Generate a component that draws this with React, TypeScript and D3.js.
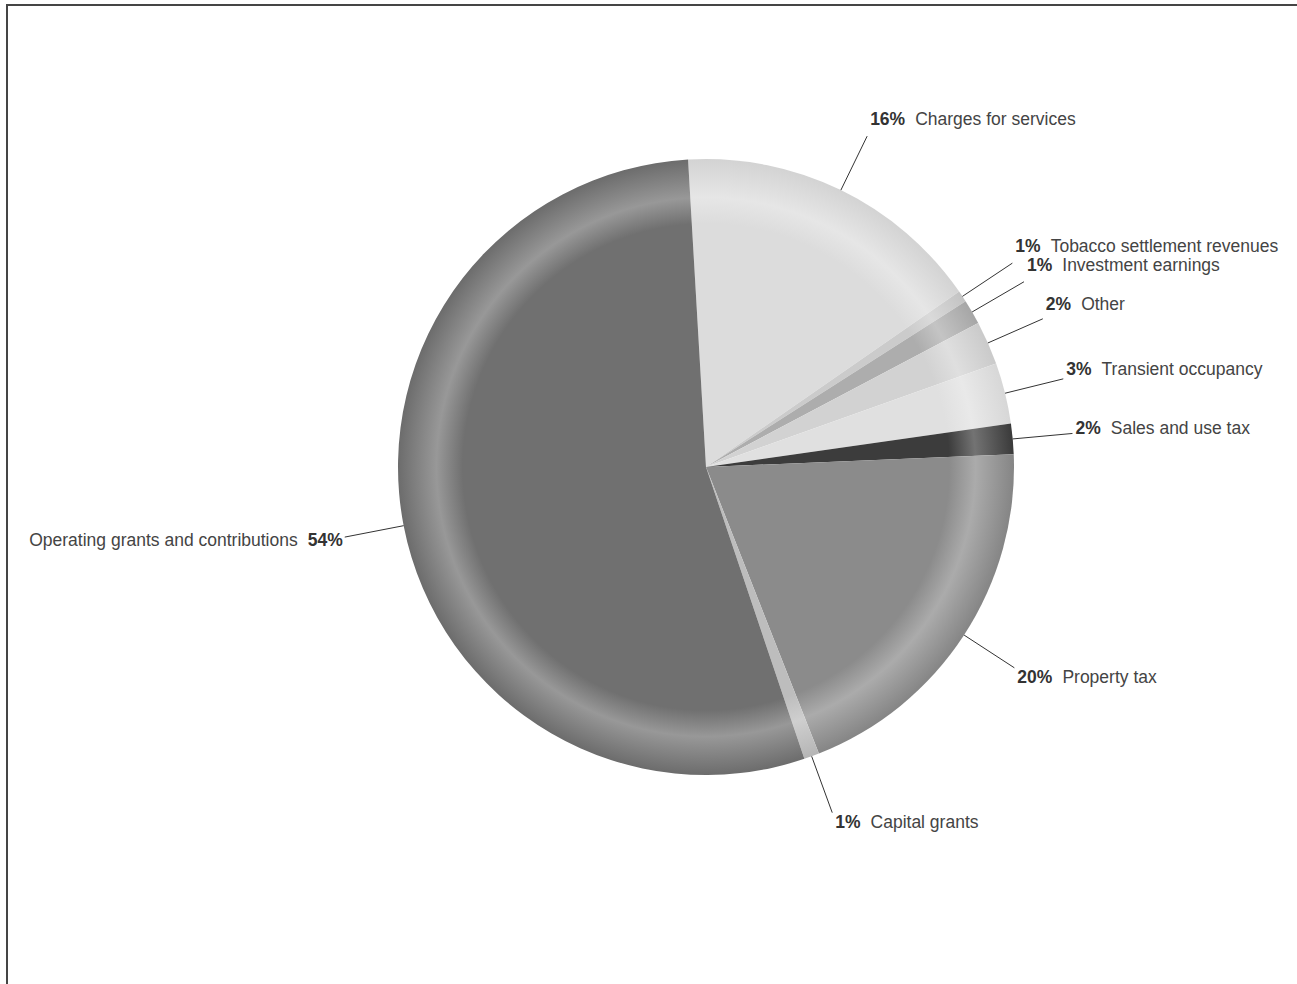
import React from "react";
import * as d3 from "d3";

const categories = [
  "Charges for services",
  "Tobacco settlement revenues",
  "Investment earnings",
  "Other",
  "Transient occupancy",
  "Sales and use tax",
  "Property tax",
  "Capital grants",
  "Operating grants and contributions",
];
const values = [16.3, 0.6, 1.3, 2.3, 3.2, 1.6, 19.7, 0.8, 54.3];
const sliceColors = [
  "#dcdcdc",
  "#cbcbcb",
  "#adadad",
  "#d2d2d2",
  "#e0e0e0",
  "#3c3c3c",
  "#8b8b8b",
  "#bdbdbd",
  "#707070",
];

const W = 1297;
const H = 984;
const CX = 706;
const CY = 467;
const R = 308;
const START_DEG = -3.34;
const FONT = "Arial, 'Liberation Sans', sans-serif";
const FS = 17.5;

export default function App() {
  const total = d3.sum(values);
  const start = (START_DEG * Math.PI) / 180;
  const pie = d3
    .pie<number>()
    .sort(null)
    .value((d) => d)
    .startAngle(start)
    .endAngle(start + 2 * Math.PI);
  const arcs = pie(values);
  const arcGen = d3.arc<d3.PieArcDatum<number>>().innerRadius(0).outerRadius(R);

  const pt = (a: number, r: number) => [CX + r * Math.sin(a), CY - r * Math.cos(a)];

  return (
    <div style={{ position: "absolute", left: 0, top: 0 }}>
      <svg width={W} height={H} style={{ display: "block" }}>
        <defs>
          {sliceColors.map((c, i) => {
            const base = d3.color(c)!.formatHex();
            const hi = d3.interpolateRgb(c, "#ffffff")(0.28);
            const edge = d3.interpolateRgb(c, "#000000")(0.04);
            return (
              <radialGradient
                key={i}
                id={`g${i}`}
                gradientUnits="userSpaceOnUse"
                cx={0}
                cy={0}
                r={R}
              >
                <stop offset="0" stopColor={base} />
                <stop offset="0.79" stopColor={base} />
                <stop offset="0.875" stopColor={hi} />
                <stop offset="1" stopColor={edge} />
              </radialGradient>
            );
          })}
        </defs>
        <rect x={0} y={0} width={W} height={H} fill="#ffffff" />
        <path d={`M7,${H} V5 H${W}`} fill="none" stroke="#454545" strokeWidth={2} />
        <g transform={`translate(${CX},${CY})`}>
          {arcs.map((a, i) => (
            <path key={i} d={arcGen(a) || ""} fill={`url(#g${i})`} />
          ))}
        </g>
        {arcs.map((a, i) => {
          const mid = (a.startAngle + a.endAngle) / 2;
          const [x1, y1] = pt(mid, R);
          const [x2, y2] = pt(mid, R + 60);
          const pct = Math.round((values[i] / total) * 100) + "%";
          const right = Math.sin(mid) >= 0;
          const dy = Math.max(-17, Math.min(9, -Math.cos(mid) * 30 - 3));
          const ty = y2 + dy;
          return (
            <g key={"l" + i}>
              <line x1={x1} y1={y1} x2={x2} y2={y2} stroke="#333" strokeWidth={1} />
              {right ? (
                <text
                  x={x2 + 3}
                  y={ty}
                  dominantBaseline="central"
                  fontFamily={FONT}
                  fontSize={FS}
                  fill="#444"
                >
                  <tspan fontWeight="bold" fill="#333">{pct}</tspan>
                  <tspan dx={10}>{categories[i]}</tspan>
                </text>
              ) : (
                <text
                  x={x2 - 2}
                  y={ty}
                  textAnchor="end"
                  dominantBaseline="central"
                  fontFamily={FONT}
                  fontSize={FS}
                  fill="#444"
                >
                  <tspan>{categories[i]}</tspan>
                  <tspan dx={10} fontWeight="bold" fill="#333">{pct}</tspan>
                </text>
              )}
            </g>
          );
        })}
      </svg>
    </div>
  );
}
